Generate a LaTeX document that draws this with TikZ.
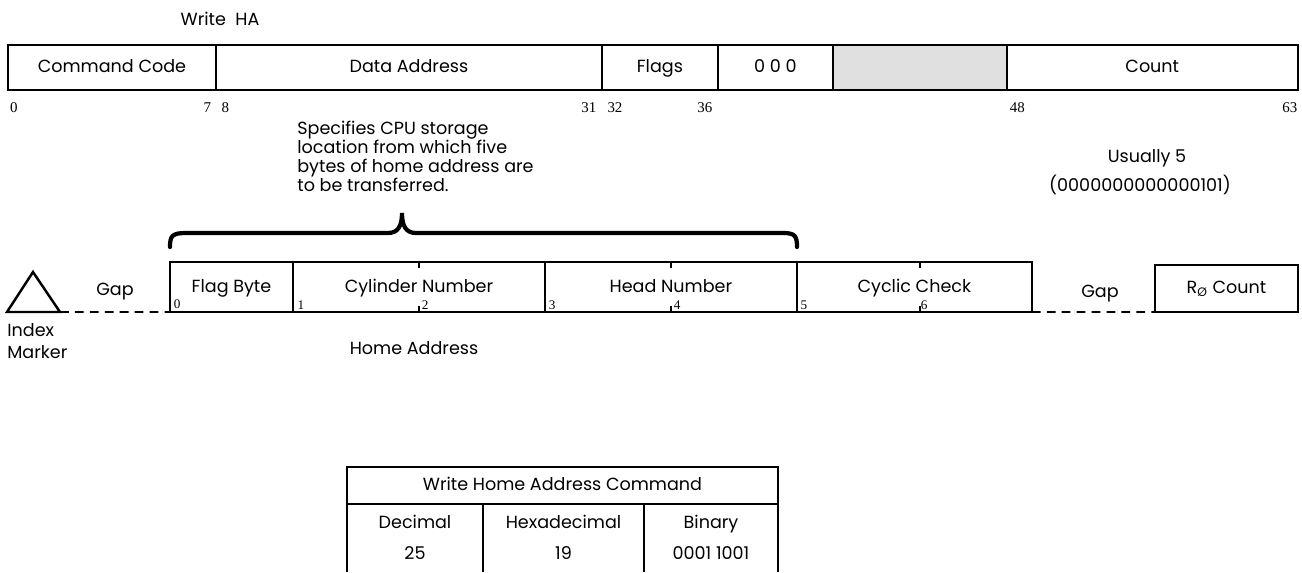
\documentclass[tikz,border=0pt]{standalone}
\usepackage{fontspec}
\setmainfont{Poppins}
\newfontfamily\bitfont{Liberation Serif}
\usetikzlibrary{positioning}
\tikzset{
    field/.style={rectangle, draw, line width=1pt, inner sep=0pt, outer sep=0pt, minimum height=0.9cm, text height=1.45ex, text depth=0.35ex, font=\fontsize{10}{12}\selectfont},
    recfield/.style={rectangle, draw, line width=0.9pt, inner sep=0pt, outer sep=0pt, minimum height=1cm, text height=1.45ex, text depth=0.35ex, font=\fontsize{10}{12}\selectfont},
    txt/.style={inner sep=0pt, text height=1.45ex, text depth=0.35ex, font=\fontsize{10}{12}\selectfont},
    para/.style={inner sep=0pt, align=left, font=\fontsize{10}{10.8}\selectfont},
    bitnum/.style={inner sep=0pt, font=\bitfont\fontsize{8.5}{9}\selectfont},
    bytenum/.style={inner sep=0pt, font=\bitfont\fontsize{7.5}{8}\selectfont},
    gapline/.style={draw, line width=1pt, dash pattern=on 5pt off 3.5pt},
    bytetick/.style={line width=0.8pt},
    bracepath/.style={line width=2.4pt, line cap=round},
}
\begin{document}
\begin{tikzpicture}[x=0.02cm, y=-0.02cm]
    \useasboundingbox (0,0) rectangle (1302,572);

    % CCW for Write HA
    \node[txt] (title) at (220,20) {Write\ \ HA};
    \node[field, minimum width=4.16cm, anchor=north west] (cmd) at (8,45) {Command Code};
    \node[field, minimum width=7.72cm, right=0pt of cmd] (addr) {Data Address};
    \node[field, minimum width=2.32cm, right=0pt of addr] (flags) {Flags};
    \node[field, minimum width=2.30cm, right=0pt of flags] (zeros) {0 0 0};
    \node[field, minimum width=3.48cm, right=0pt of zeros, fill=black!12] (pad) {};
    \node[field, minimum width=5.82cm, right=0pt of pad] (count) {Count};

    % bit positions
    \node[bitnum, below right=7pt and 1pt of cmd.south west] {0};
    \node[bitnum, below left=7pt and 2.5pt of cmd.south east] {7};
    \node[bitnum, below right=7pt and 3pt of addr.south west] {8};
    \node[bitnum, below left=7pt and 3pt of addr.south east] {31};
    \node[bitnum, below right=7pt and 3pt of flags.south west] {32};
    \node[bitnum, below left=7pt and 3pt of flags.south east] {36};
    \node[bitnum, below right=7pt and 1.5pt of count.south west] {48};
    \node[bitnum, below left=7pt and 0pt of count.south east] {63};

    % notes
    \node[para, anchor=north west] (note) at (297,121)
        {Specifies CPU storage\\location from which five\\bytes of home address are\\to be transferred.};
    \node[txt] (usual) at (1147,157) {Usually 5};
    \node[txt] (usualbin) at (1140,186) {(0000000000000101)};

    % brace
    \draw[bracepath] (170,247) .. controls (170,236) and (172,233) .. (186,233) -- (388,233)
        .. controls (398,233) and (402,226) .. (402,213)
        .. controls (402,226) and (406,233) .. (416,233) -- (783,233)
        .. controls (795,233) and (797,236) .. (797,247);

    % Index marker
    \coordinate (imleft) at (7,312);
    \coordinate (imtop) at (33,272);
    \coordinate (imright) at (60,312);
    \draw[line width=1.4pt, line join=miter] (imleft) -- (imtop) -- (imright) -- cycle;
    \node[para, anchor=west, font=\fontsize{10}{12.5}\selectfont] (imtext) at (7,341) {Index\\Marker};
    \node[txt] (gap1) at (115,290) {Gap};

    % Home address record
    \node[recfield, minimum width=2.46cm, anchor=north west] (flagbyte) at (170,262) {Flag Byte};
    \node[recfield, minimum width=5.04cm, right=0pt of flagbyte] (cyl) {Cylinder Number};
    \node[recfield, minimum width=5.04cm, right=0pt of cyl] (head) {Head Number};
    \node[recfield, minimum width=4.70cm, right=0pt of head] (crc) {Cyclic Check};
    \node[recfield, minimum width=2.86cm, minimum height=0.94cm, anchor=south east] (rzero) at (1298,312) {R\textsubscript{Ø}\ Count};
    \node[txt] (gap2) at (1100,292) {Gap};
    \node[txt] (halabel) at (414,349) {Home Address};

    \draw[gapline] (imright) -- (flagbyte.south west);
    \draw[gapline] (crc.south east) -- (rzero.south west);

    % byte boundaries
    \foreach \f in {cyl, head} {
        \draw[bytetick] (\f.north) -- ++(0,6);
        \draw[bytetick] (\f.south) -- ++(0,-6);
    }
    \draw[bytetick] ([xshift=0.11cm]crc.north) -- ++(0,6);
    \draw[bytetick] ([xshift=0.11cm]crc.south) -- ++(0,-6);

    \node[bytenum, above right=1.5pt and 2pt of flagbyte.south west] {0};
    \node[bytenum, above right=1pt and 2.5pt of cyl.south west] {1};
    \node[bytenum, above right=1pt and 1.5pt of cyl.south] {2};
    \node[bytenum, above right=1pt and 2pt of head.south west] {3};
    \node[bytenum, above right=1pt and 1.5pt of head.south] {4};
    \node[bytenum, above right=1pt and 2pt of crc.south west] {5};
    \node[bytenum, above right=1pt and 3.5pt of crc.south] {6};

    % command table
    \node[field, minimum width=8.62cm, minimum height=0.74cm, anchor=north west] (tabtitle) at (347,467) {Write Home Address Command};
    \draw[line width=1pt] (tabtitle.south west) -- ++(0,68);
    \draw[line width=1pt] (tabtitle.south east) -- ++(0,68);
    \draw[line width=1pt] (483,504) -- (483,572);
    \draw[line width=1pt] (644,504) -- (644,572);
    \node[txt] (dechead) at (415,523) {Decimal};
    \node[txt] (hexhead) at (563.5,523) {Hexadecimal};
    \node[txt] (binhead) at (711,523) {Binary};
    \node[txt] (decval) at (415,554) {25};
    \node[txt] (hexval) at (563.5,554) {19};
    \node[txt] (binval) at (711,554) {0001 1001};
\end{tikzpicture}
\end{document}
